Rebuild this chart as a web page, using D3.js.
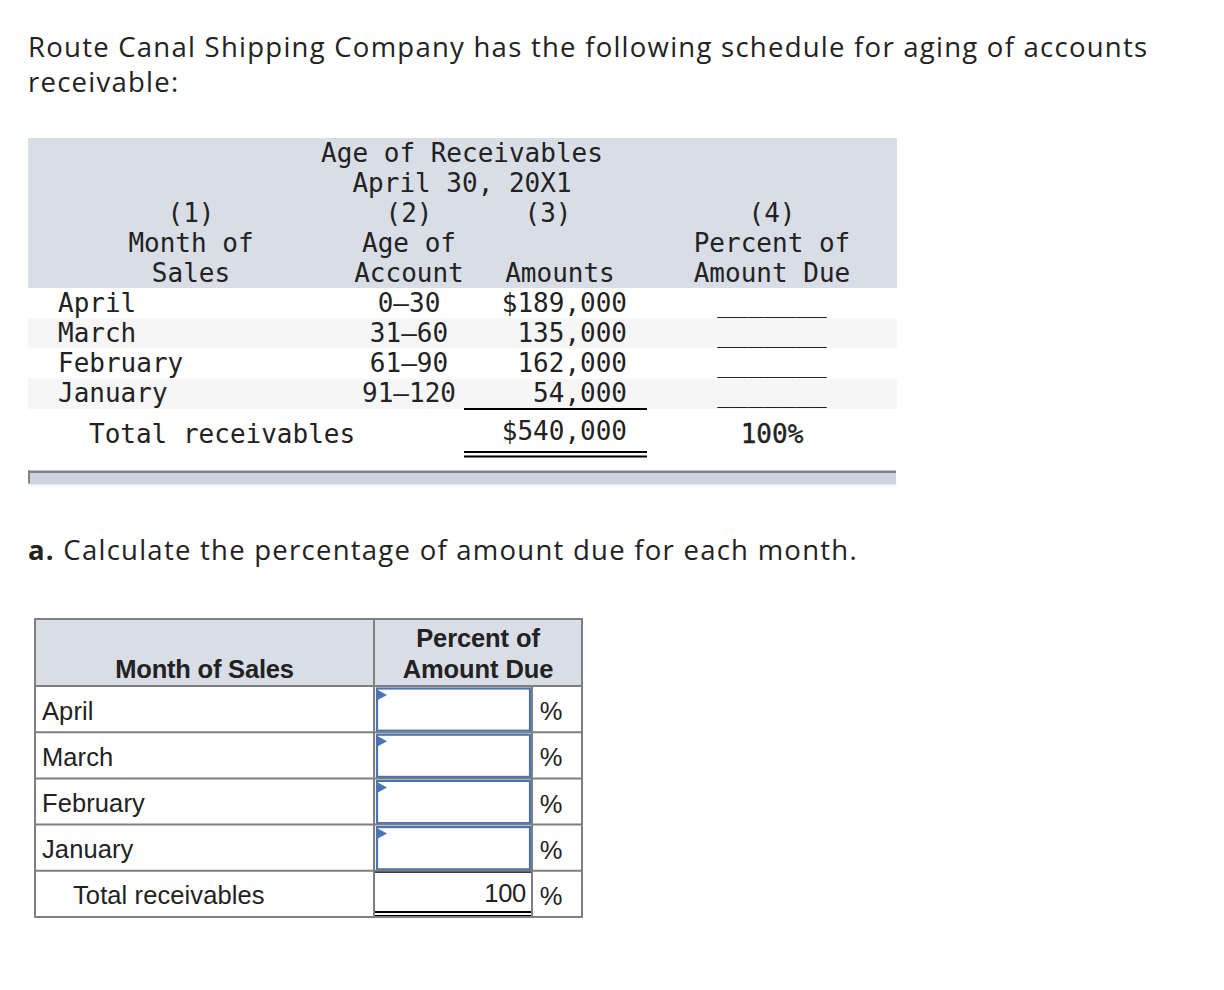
<!DOCTYPE html>
<html><head><meta charset="utf-8">
<script src="https://cdn.jsdelivr.net/npm/d3@7/dist/d3.min.js"></script>
<style>body{margin:0;background:#fff}svg{display:block}</style>
</head><body>
<svg id="c" width="1224" height="990"></svg>
<script>
// ---- data ----
const months = ["April", "March", "February", "January"];
const ageRanges = ["0–30", "31–60", "61–90", "91–120"];
const amounts = [189000, 135000, 162000, 54000];
const totalAmount = 540000;
const totalPercent = 100;
const introLines = ["Route Canal Shipping Company has the following schedule for aging of accounts", "receivable:"];
const topHeaderSpan = ["Age of Receivables", "April 30, 20X1"];
const colNumbers = ["(1)", "(2)", "(3)", "(4)"];
const colHeads = [["Month of", "Sales"], ["Age of", "Account"], ["Amounts"], ["Percent of", "Amount Due"]];
const totalLabel = "Total receivables";
const question = ["a.", " Calculate the percentage of amount due for each month."];
const answerHeads = ["Month of Sales", ["Percent of", "Amount Due"]];

// ---- drawing ----
const svg = d3.select("#c");
const mono = "'DejaVu Sans Mono', monospace";
const prose = "'Open Sans', Lato, sans-serif";
const sans = "'Liberation Sans', Arial, Helvetica, sans-serif";
const ink = "#222";
const headBg = "#d8dde6";

// intro paragraph
svg.append("g").selectAll("text").data(introLines).join("text")
  .attr("x", 28).attr("y", (d, i) => 57 + i * 35)
  .attr("font-family", prose).attr("font-size", 27.5).attr("letter-spacing", 1.25).attr("fill", ink)
  .text(d => d);

// ===== top table =====
const topG = svg.append("g");
const xT = d3.scaleLinear().domain([0, 1]).range([28, 897]);
topG.append("rect").attr("x", xT(0)).attr("y", 138).attr("width", xT(1) - xT(0)).attr("height", 150).attr("fill", headBg);

const rowY = d3.scaleBand().domain(months).range([288, 409]);
topG.selectAll("rect.row").data(months).join("rect").attr("class", "row")
  .attr("x", xT(0)).attr("width", xT(1) - xT(0))
  .attr("y", d => rowY(d)).attr("height", rowY.bandwidth())
  .attr("fill", (d, i) => i % 2 ? "#f6f6f6" : "#fff");

const colX = [191, 409, 560, 772];
const monoText = (g, x, y, t, anchor) => g.append("text").attr("x", x).attr("y", y)
  .attr("font-family", mono).attr("font-size", 26).attr("fill", ink)
  .attr("text-anchor", anchor || "middle").text(t);

topHeaderSpan.forEach((t, i) => monoText(topG, 462, 162 + i * 30, t));
[191, 409, 548, 772].forEach((x, i) => monoText(topG, x, 222, colNumbers[i]));
colHeads.forEach((lines, c) => {
  lines.forEach((t, i) => monoText(topG, colX[c], 282 - (lines.length - 1 - i) * 30, t));
});

months.forEach((m, i) => {
  const by = rowY(m) + 23.5;
  monoText(topG, 58, by, m, "start");
  monoText(topG, 409, by, ageRanges[i]);
  monoText(topG, 627, by, (i === 0 ? "$" : "") + d3.format(",")(amounts[i]), "end");
  monoText(topG, 772, by, "_______");
});
monoText(topG, 89, 443, totalLabel, "start");
monoText(topG, 627, 440, "$" + d3.format(",")(totalAmount), "end");
monoText(topG, 772, 443, totalPercent + "%").attr("stroke", ink).attr("stroke-width", 0.4);

topG.append("line").attr("x1", 464).attr("x2", 647).attr("y1", 409).attr("y2", 409).attr("stroke", "#000").attr("stroke-width", 2);
[452, 456.5].forEach(y => topG.append("line").attr("x1", 464).attr("x2", 647).attr("y1", y).attr("y2", y).attr("stroke", "#000").attr("stroke-width", 2));

// bottom bar
topG.append("rect").attr("x", 29).attr("y", 472).attr("width", 867).attr("height", 12).attr("fill", "#cdd3df");
topG.append("rect").attr("x", 29).attr("y", 484).attr("width", 868).attr("height", 2).attr("fill", "#e9eff8");
topG.append("rect").attr("x", 28).attr("y", 470.5).attr("width", 868).attr("height", 2.5).attr("fill", "#838383");
topG.append("rect").attr("x", 28).attr("y", 470.5).attr("width", 2).attr("height", 13).attr("fill", "#838383");

// question
const q = svg.append("text").attr("x", 28).attr("y", 560)
  .attr("font-family", prose).attr("font-size", 27.5).attr("letter-spacing", 1.25).attr("fill", ink);
q.append("tspan").attr("font-weight", "bold").text(question[0]);
q.append("tspan").text(question[1]);

// ===== answer table =====
const ans = svg.append("g");
const L = 35, M = 374, P = 532, R = 582;
const rows = months.concat([totalLabel]);
const yA = d3.scaleBand().domain(rows).range([686, 917]);
const grid = "#7f7f7f";

ans.append("rect").attr("x", L).attr("y", 619).attr("width", R - L).attr("height", 67).attr("fill", headBg);
ans.append("text").attr("x", (L + M) / 2).attr("y", 678).attr("text-anchor", "middle")
  .attr("font-family", sans).attr("font-weight", "bold").attr("font-size", 25.5).attr("fill", ink).attr("letter-spacing", -0.2)
  .text(answerHeads[0]);
answerHeads[1].forEach((t, i) => ans.append("text").attr("x", 478).attr("y", 647 + i * 31).attr("text-anchor", "middle")
  .attr("font-family", sans).attr("font-weight", "bold").attr("font-size", 25.5).attr("fill", ink).attr("letter-spacing", -0.1).text(t));

rows.forEach((r, i) => {
  const y0 = yA(r), h = yA.bandwidth();
  const isTotal = i === rows.length - 1;
  ans.append("text").attr("x", isTotal ? 73 : 42).attr("y", y0 + h / 2 + 10.5)
    .attr("font-family", sans).attr("font-size", 25.5).attr("fill", ink).attr("letter-spacing", 0.1).text(r);
  ans.append("text").attr("x", 551).attr("y", y0 + h / 2 + 11).attr("text-anchor", "middle")
    .attr("font-family", sans).attr("font-size", 25.5).attr("fill", ink).text("%");
  if (!isTotal) {
    ans.append("rect").attr("x", 377).attr("y", y0 + 2.5).attr("width", 153).attr("height", h - 4)
      .attr("fill", "#fff").attr("stroke", "#4a75b5").attr("stroke-width", 2.2);
    ans.append("path").attr("d", `M376,${y0 + 3} L387,${y0 + 9} L376,${y0 + 15} Z`).attr("fill", "#4a75b5");
  } else {
    ans.append("text").attr("x", 526).attr("y", y0 + h / 2 + 8).attr("text-anchor", "end")
      .attr("font-family", sans).attr("font-size", 25.5).attr("fill", ink).attr("letter-spacing", -0.3).text(totalPercent);
    ans.append("line").attr("x1", M).attr("x2", P).attr("y1", y0 + 1).attr("y2", y0 + 1).attr("stroke", "#000").attr("stroke-width", 2);
    [912, 916].forEach(y => ans.append("line").attr("x1", M).attr("x2", P).attr("y1", y).attr("y2", y).attr("stroke", "#000").attr("stroke-width", 2));
  }
});

// grid lines
const hl = [686].concat(rows.slice(1).map(r => yA(r)));
hl.forEach(y => ans.append("line").attr("x1", L).attr("x2", R).attr("y1", y).attr("y2", y).attr("stroke", grid).attr("stroke-width", 2));
ans.append("line").attr("x1", M).attr("x2", M).attr("y1", 619).attr("y2", 917).attr("stroke", grid).attr("stroke-width", 2);
ans.append("line").attr("x1", P).attr("x2", P).attr("y1", 686).attr("y2", 917).attr("stroke", grid).attr("stroke-width", 2);
ans.append("rect").attr("x", L).attr("y", 619).attr("width", R - L).attr("height", 298)
  .attr("fill", "none").attr("stroke", grid).attr("stroke-width", 2);
</script>
</body></html>
